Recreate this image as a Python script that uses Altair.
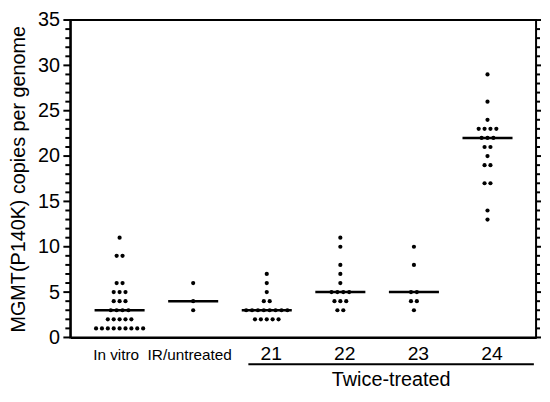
import altair as alt
import pandas as pd

groups = ["In vitro", "IR/untreated", "21", "22", "23", "24"]
in_vitro = [11, 9, 9, 6, 6, 5, 5, 5, 4, 4, 4, 3, 3, 3, 3, 2, 2, 2, 2, 2, 1, 1, 1, 1, 1, 1, 1, 1, 1]
ir_untreated = [6, 4, 3]
mouse21 = [7, 6, 5, 4, 4, 3, 3, 3, 3, 3, 3, 3, 3, 2, 2, 2, 2, 2]
mouse22 = [11, 10, 8, 7, 6, 5, 5, 5, 5, 4, 4, 4, 3, 3]
mouse23 = [10, 8, 5, 5, 4, 4, 3]
mouse24 = [29, 26, 24, 23, 23, 23, 23, 22, 22, 22, 21, 21, 20, 19, 19, 17, 17, 14, 13]
medians = [3, 4, 3, 5, 5, 22]
y_ticks = list(range(0, 36))

series = [in_vitro, ir_untreated, mouse21, mouse22, mouse23, mouse24]
spacing = 0.08
rows = []
for gi, vals in enumerate(series):
    pos = gi + 1
    counts = {}
    for v in vals:
        counts[v] = counts.get(v, 0) + 1
    for v, n in counts.items():
        for k in range(n):
            rows.append({"group": groups[gi], "xpos": pos + (k - (n - 1) / 2) * spacing, "value": v})
df = pd.DataFrame(rows)

med_df = pd.DataFrame({"group": groups, "pos": list(range(1, 7)), "median": medians})

W, H = 471, 321
X0, X1 = 0.33, 6.66
UNIT = (X1 - X0) / W  # data units per pixel
FONT = "Liberation Sans"
xscale = alt.Scale(domain=[X0, X1], nice=False, zero=False)
yscale = alt.Scale(domain=[0, 35], nice=False)

label_expr = "['In vitro','IR/untreated','21','22','23','24'][datum.value-1]"

x_axis = alt.Axis(
    values=[1, 2, 3, 4, 5, 6], labelExpr=label_expr, ticks=False, grid=False,
    domainColor="black", domainWidth=2, labelColor="black", labelFont=FONT,
    labelFontSize={"condition": {"test": "datum.value <= 2", "value": 15.5}, "value": 19.5},
    labelOffset={"condition": {"test": "datum.value <= 2", "value": -4}, "value": 4},
    labelPadding=22, labelBaseline="alphabetic",
    title="Twice-treated", titleFont=FONT, titleFontSize=20, titleFontWeight="normal",
    titleColor="black", titleX=324, titleY=49, titleBaseline="alphabetic", titleAlign="center",
)

y_axis = alt.Axis(
    orient="left", values=[0, 5, 10, 15, 20, 25, 30, 35], ticks=False, grid=False,
    domainColor="black", domainWidth=2,
    labelFont=FONT, labelFontSize=20, labelColor="black", labelPadding=11,
    title="MGMT(P140K) copies per genome", titleFont=FONT, titleFontSize=20,
    titleFontWeight="normal", titleColor="black", titlePadding=9,
)

points = alt.Chart(df).mark_circle(size=18, color="black", opacity=1).encode(
    x=alt.X("xpos:Q", scale=xscale, axis=x_axis),
    y=alt.Y("value:Q", scale=yscale, axis=y_axis),
)

med = alt.Chart(med_df).transform_calculate(
    x1="datum.pos - 0.34", x2="datum.pos + 0.34"
).mark_rule(color="black", strokeWidth=2.5).encode(
    x=alt.X("x1:Q", scale=xscale),
    x2="x2:Q",
    y=alt.Y("median:Q", scale=yscale),
)

# frame tick marks (major every 5, minor every 1) on left and right edges
tick_df = pd.DataFrame({"t": y_ticks})
ticks_left = alt.Chart(tick_df).transform_calculate(
    len_px="datum.t % 5 === 0 ? 7 : 5",
    a=f"{X0} - datum.len_px * {UNIT}", b=f"{X0}"
).mark_rule(color="black", strokeWidth=2).encode(
    x=alt.X("a:Q", scale=xscale), x2="b:Q", y=alt.Y("t:Q", scale=yscale)
)
ticks_right = alt.Chart(tick_df).transform_calculate(
    len_px="datum.t % 5 === 0 ? 5 : 4",
    a=f"{X1}", b=f"{X1} + datum.len_px * {UNIT}"
).mark_rule(color="black", strokeWidth=2).encode(
    x=alt.X("a:Q", scale=xscale), x2="b:Q", y=alt.Y("t:Q", scale=yscale)
)

bracket = alt.Chart(pd.DataFrame({"a": [0]})).mark_rule(color="black", strokeWidth=2).encode(
    x=alt.datum(2.75), x2=alt.datum(6.63), y=alt.value(H + 27)
)

chart = alt.layer(
    points, med, ticks_left, ticks_right, bracket
).properties(
    width=W, height=H, padding=0
).configure_view(stroke="black", strokeWidth=2)

chart.save("out.html", embed_options={"renderer": "svg", "actions": False})
